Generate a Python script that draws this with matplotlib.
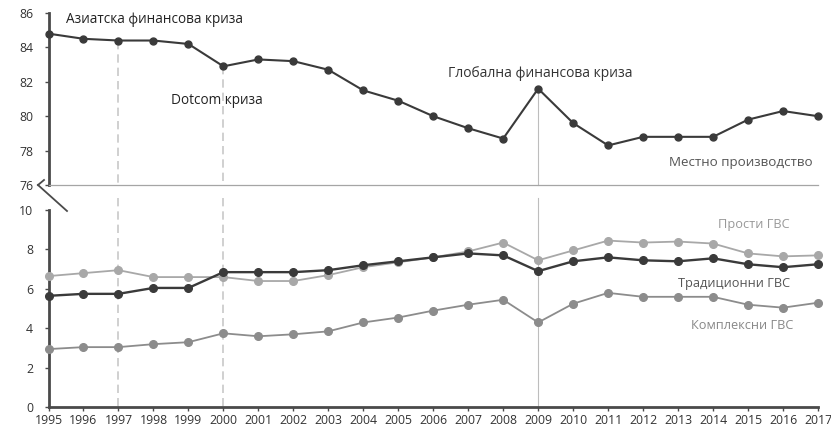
import matplotlib
matplotlib.use('Agg')

import matplotlib.pyplot as plt
from matplotlib.lines import Line2D

plt.rcParams['font.family'] = ['Open Sans', 'DejaVu Sans']

years = list(range(1995, 2018))

# местно производство (top panel)
local = [84.8, 84.5, 84.4, 84.4, 84.2, 82.9, 83.3, 83.2, 82.7, 81.5, 80.9,
         80.0, 79.3, 78.7, 81.6, 79.6, 78.3, 78.8, 78.8, 78.8, 79.8, 80.3, 80.0]

# bottom panel
simple_gvc = [6.65, 6.8, 6.95, 6.6, 6.6, 6.6, 6.4, 6.4, 6.7, 7.1, 7.35,
              7.6, 7.9, 8.35, 7.45, 7.95, 8.45, 8.35, 8.4, 8.3, 7.8, 7.65, 7.7]
trad_gvc = [5.65, 5.75, 5.75, 6.05, 6.05, 6.85, 6.85, 6.85, 6.95, 7.2, 7.4,
            7.6, 7.8, 7.7, 6.9, 7.4, 7.6, 7.45, 7.4, 7.55, 7.25, 7.1, 7.25]
complex_gvc = [2.95, 3.05, 3.05, 3.2, 3.3, 3.75, 3.6, 3.7, 3.85, 4.3, 4.55,
               4.9, 5.2, 5.45, 4.3, 5.25, 5.8, 5.6, 5.6, 5.6, 5.2, 5.05, 5.3]

crisis_years = [1997, 2000, 2009]

W, H = 831, 432
fig = plt.figure(figsize=(W / 100, H / 100), dpi=100)

left = 48.5 / W
width = (818 - 48.5) / W
ax_top = fig.add_axes([left, (H - 185) / H, width, (185 - 13) / H])
ax_bot = fig.add_axes([left, (H - 407.3) / H, width, (407.3 - 210) / H])

dark = '#3a3a3a'
light = '#a8a8a8'
mid = '#8c8c8c'
spine_col = '#4a4a4a'

# top panel
ax_top.plot(years, local, color=dark, lw=1.5, marker='o', ms=5, clip_on=False, zorder=3)
ax_top.set_xlim(1995, 2017)
ax_top.set_ylim(76, 86)
ax_top.set_yticks(range(76, 87, 2))
ax_top.set_xticks([])
for s in ['top', 'right']:
    ax_top.spines[s].set_visible(False)
ax_top.spines['left'].set_color(spine_col)
ax_top.spines['left'].set_linewidth(2)
ax_top.spines['bottom'].set_color('#a5a5a5')
ax_top.spines['bottom'].set_linewidth(0.9)
ax_top.tick_params(axis='y', length=3, width=1, color=spine_col, labelsize=8.8,
                   labelcolor='#333333', pad=8)

# bottom panel
ax_bot.plot(years, simple_gvc, color=light, lw=1.3, marker='o', ms=5.5, clip_on=False, zorder=3)
ax_bot.plot(years, complex_gvc, color=mid, lw=1.3, marker='o', ms=5.5, clip_on=False, zorder=3)
ax_bot.plot(years, trad_gvc, color=dark, lw=1.7, marker='o', ms=5.5, clip_on=False, zorder=4)
ax_bot.set_xlim(1995, 2017)
ax_bot.set_ylim(0, 10)
ax_bot.set_yticks(range(0, 11, 2))
ax_bot.set_xticks(years)
for s in ['top', 'right']:
    ax_bot.spines[s].set_visible(False)
for s in ['left', 'bottom']:
    ax_bot.spines[s].set_color(spine_col)
    ax_bot.spines[s].set_linewidth(2)
ax_bot.tick_params(axis='y', length=3, width=1, color=spine_col, labelsize=8.8,
                   labelcolor='#333333', pad=8)
ax_bot.tick_params(axis='x', length=3, width=1, color=spine_col, labelsize=8.8,
                   labelcolor='#333333', pad=2)

# crisis markers spanning both panels
for yr, start in zip(crisis_years, [84.4, 82.9, 81.6]):
    style = dict(color='#c8c8c8', lw=1.2, ls=(0, (5, 3))) if yr != 2009 else dict(color='#bdbdbd', lw=0.8)
    ax_top.plot([yr, yr], [start, 76], zorder=1, clip_on=False, **style)
    ax_bot.plot([yr, yr], [10.6, 0], zorder=1, clip_on=False, **style)

# break mark on the left axis
fig.add_artist(Line2D([38 / W, 67 / W], [(H - 185) / H, (H - 211) / H], color=spine_col, lw=1.3))
fig.add_artist(Line2D([38 / W, 44 / W], [(H - 185) / H, (H - 180) / H], color=spine_col, lw=1.3))

# annotations
ax_top.text(1995.5, 85.65, 'Азиатска финансова криза', fontsize=9.8, color='#222222', va='center')
ax_top.text(1998.5, 80.9, 'Dotcom криза', fontsize=9.8, color='#222222', va='center')
ax_top.text(2009.05, 82.5, 'Глобална финансова криза', fontsize=10, color='#333333',
            va='center', ha='center')
ax_top.text(2016.85, 77.3, 'Местно производство', fontsize=9.6, color='#555555',
            va='center', ha='right')
ax_bot.text(2016.2, 9.25, 'Прости ГВС', fontsize=9.2, color='#999999', va='center', ha='right')
ax_bot.text(2016.2, 6.3, 'Традиционни ГВС', fontsize=9.2, color='#555555', va='center', ha='right')
ax_bot.text(2016.3, 4.15, 'Комплексни ГВС', fontsize=9.2, color='#888888', va='center', ha='right')

fig.savefig('out.png', dpi=100)
